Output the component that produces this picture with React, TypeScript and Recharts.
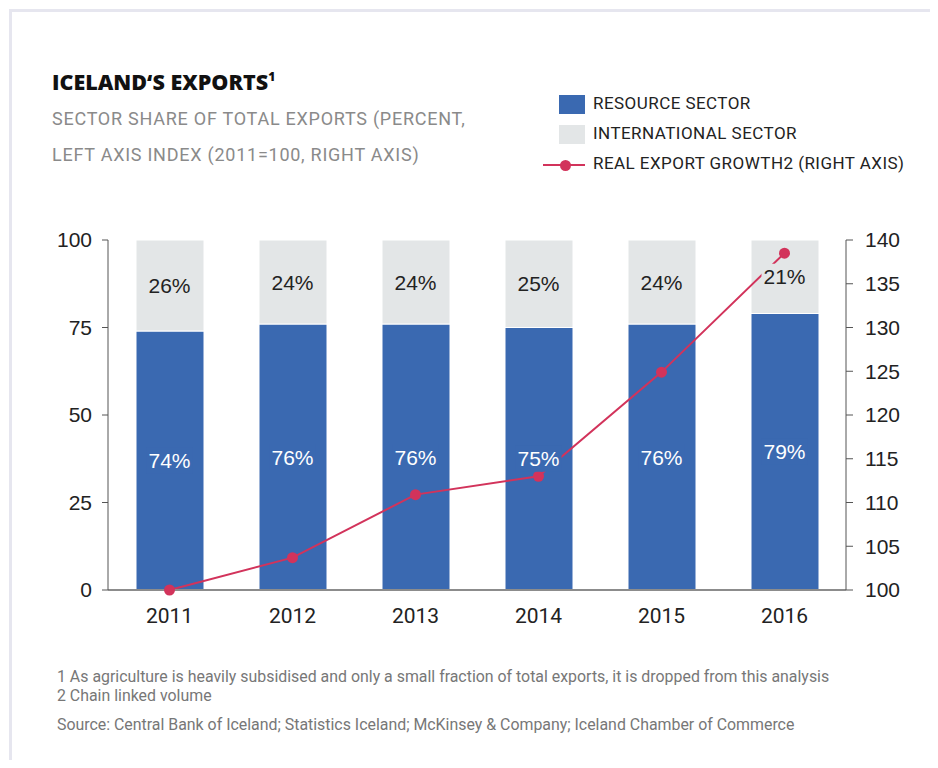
import React from "react";
import {
  ComposedChart,
  Bar,
  Line,
  XAxis,
  YAxis,
} from "recharts";

const years = ["2011", "2012", "2013", "2014", "2015", "2016"];
const resourceShare = [74, 76, 76, 75, 76, 79];
const internationalShare = [26, 24, 24, 25, 24, 21];
const exportIndex = [100, 103.7, 110.9, 113.0, 124.9, 138.5];
const leftTicks = [0, 25, 50, 75, 100];
const rightTicks = [100, 105, 110, 115, 120, 125, 130, 135, 140];

const legendItems = [
  "RESOURCE SECTOR",
  "INTERNATIONAL SECTOR",
  "REAL EXPORT GROWTH2 (RIGHT AXIS)",
];
const footnotes = [
  "1 As agriculture is heavily subsidised and only a small fraction of total exports, it is dropped from this analysis",
  "2 Chain linked volume",
];
const sourceNote =
  "Source: Central Bank of Iceland; Statistics Iceland; McKinsey & Company; Iceland Chamber of Commerce";

const BLUE = "#3a69b1";
const GREY = "#e3e6e7";
const RED = "#d2335b";
const AXIS = "#555555";
const ARIAL = "'Liberation Sans', Arial, sans-serif";
const DIN = "Roboto, 'Noto Sans', sans-serif";

const data = years.map((year, i) => ({
  year,
  resource: resourceShare[i],
  international: internationalShare[i],
  index: exportIndex[i],
}));

// label drawn with a background box so the line passes "behind" it
const makeLabel = (field: "resource" | "international", bg: string, color: string) =>
  (props: any) => {
    const { cx, cy, payload, index } = props;
    if (cx == null || cy == null) return <g key={`${field}-${index}`} />;
    const text = `${payload[field]}%`;
    const w = text.length * 12 + 10;
    return (
      <g key={`${field}-${index}`}>
        <rect x={cx - w / 2} y={cy - 13} width={w} height={26} fill={bg} />
        <text
          x={cx}
          y={cy}
          textAnchor="middle"
          dominantBaseline="central"
          fontFamily={ARIAL}
          fontSize={21}
          fill={color}
        >
          {text}
        </text>
      </g>
    );
  };

const abs = (left: number, top: number): React.CSSProperties => ({
  position: "absolute",
  left,
  top,
  whiteSpace: "nowrap",
});

export default function App() {
  return (
    <div
      style={{
        position: "relative",
        margin: -8,
        width: 938,
        height: 768,
        overflow: "hidden",
        background: "#fff",
        fontFamily: DIN,
      }}
    >
      {/* card frame */}
      <div
        style={{
          position: "absolute",
          left: 9,
          top: 9,
          width: 940,
          height: 780,
          borderTop: "3px solid #e6e6ef",
          borderLeft: "3px solid #e6e6ef",
        }}
      />

      <div
        style={{
          ...abs(52, 70),
          fontFamily: "'Open Sans', sans-serif",
          fontSize: 21.5,
          fontWeight: 800,
          color: "#111",
          lineHeight: "24px",
        }}
      >
        ICELAND‘S EXPORTS<sup style={{ fontSize: 12, verticalAlign: "top", lineHeight: "14px" }}>1</sup>
      </div>
      <div style={{ ...abs(52, 101), fontSize: 18, letterSpacing: 0.75, color: "#8a8a8a", lineHeight: "36px" }}>
        SECTOR SHARE OF TOTAL EXPORTS (PERCENT,
        <br />
        LEFT AXIS INDEX (2011=100, RIGHT AXIS)
      </div>

      {/* legend */}
      <div style={{ position: "absolute", left: 559, top: 95, width: 26, height: 19, background: BLUE }} />
      <div style={{ position: "absolute", left: 559, top: 125, width: 26, height: 19, background: GREY }} />
      <div style={{ position: "absolute", left: 543, top: 164, width: 42, height: 2, background: RED }} />
      <div
        style={{
          position: "absolute",
          left: 560,
          top: 160,
          width: 11,
          height: 11,
          borderRadius: "50%",
          background: RED,
        }}
      />
      {legendItems.map((t, i) => (
        <div
          key={t}
          style={{ ...abs(593, 93 + i * 30), fontSize: 17, letterSpacing: 0.45, color: "#222", lineHeight: "20px" }}
        >
          {t}
        </div>
      ))}

      <div style={{ position: "absolute", left: 0, top: 200 }}>
        <ComposedChart
          width={938}
          height={440}
          data={data}
          margin={{ top: 40, right: 32, left: 48, bottom: 20 }}
        >
          <XAxis
            dataKey="year"
            axisLine={{ stroke: "#8c8c8c", strokeWidth: 2 }}
            tickLine={false}
            tickSize={0}
            tickMargin={18}
            height={30}
            tick={{ fill: "#222", fontFamily: DIN, fontSize: 21 }}
          />
          <YAxis
            yAxisId="left"
            domain={[0, 100]}
            ticks={leftTicks}
            width={60}
            axisLine={{ stroke: AXIS }}
            tickLine={{ stroke: AXIS }}
            tickSize={6}
            tickMargin={10}
            tick={{ fill: "#222", fontFamily: ARIAL, fontSize: 21 }}
          />
          <YAxis
            yAxisId="right"
            orientation="right"
            domain={[100, 140]}
            ticks={rightTicks}
            width={60}
            axisLine={{ stroke: AXIS }}
            tickLine={{ stroke: AXIS }}
            tickSize={7}
            tickMargin={12}
            tick={{ fill: "#222", fontFamily: ARIAL, fontSize: 21 }}
          />
          <Bar
            yAxisId="left"
            dataKey="resource"
            stackId="s"
            fill={BLUE}
            stroke="#ffffff"
            strokeWidth={1}
            barSize={68}
            isAnimationActive={false}
          />
          <Bar
            yAxisId="left"
            dataKey="international"
            stackId="s"
            fill={GREY}
            stroke="#ffffff"
            strokeWidth={1}
            barSize={68}
            isAnimationActive={false}
          />
          <Line
            yAxisId="right"
            dataKey="index"
            stroke={RED}
            strokeWidth={2}
            dot={{ r: 5.5, fill: RED, stroke: "none" }}
            activeDot={false}
            isAnimationActive={false}
          />
          <Line
            yAxisId="left"
            dataKey={(d: any) => d.resource / 2}
            stroke="none"
            dot={makeLabel("resource", BLUE, "#ffffff")}
            activeDot={false}
            isAnimationActive={false}
          />
          <Line
            yAxisId="left"
            dataKey={(d: any) => d.resource + d.international / 2}
            stroke="none"
            dot={makeLabel("international", GREY, "#222222")}
            activeDot={false}
            isAnimationActive={false}
          />
        </ComposedChart>
      </div>

      {footnotes.map((t, i) => (
        <div key={t} style={{ ...abs(57, 667 + i * 19), fontSize: 15.9, color: "#777", lineHeight: "19px" }}>
          {t}
        </div>
      ))}
      <div style={{ ...abs(57, 715), fontSize: 15.9, color: "#777", lineHeight: "19px" }}>{sourceNote}</div>
    </div>
  );
}
